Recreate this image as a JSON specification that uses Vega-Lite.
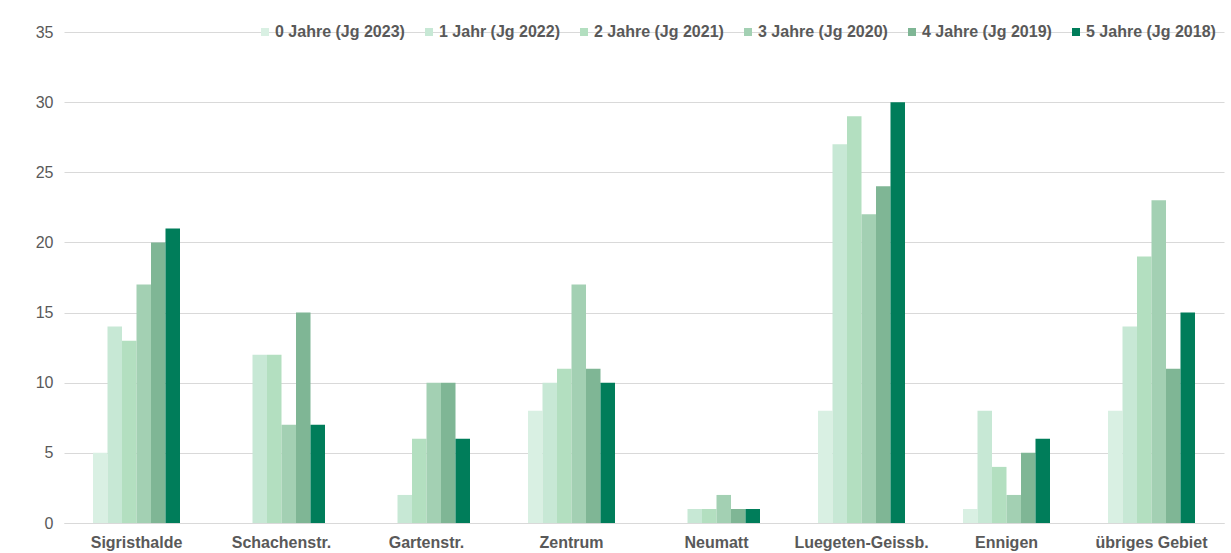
{
  "$schema": "https://vega.github.io/schema/vega-lite/v6.json",
  "width": 1160,
  "height": 491,
  "autosize": {"type": "none"},
  "padding": {"left": 64, "top": 32, "right": 7, "bottom": 30},
  "background": "white",
  "config": {
    "view": {"stroke": null},
    "font": "Liberation Sans"
  },
  "data": {
    "values": [
      {"Gebiet": "Sigristhalde", "Alter": "0 Jahre (Jg 2023)", "Anzahl": 5},
      {"Gebiet": "Sigristhalde", "Alter": "1 Jahr (Jg 2022)", "Anzahl": 14},
      {"Gebiet": "Sigristhalde", "Alter": "2 Jahre (Jg 2021)", "Anzahl": 13},
      {"Gebiet": "Sigristhalde", "Alter": "3 Jahre (Jg 2020)", "Anzahl": 17},
      {"Gebiet": "Sigristhalde", "Alter": "4 Jahre (Jg 2019)", "Anzahl": 20},
      {"Gebiet": "Sigristhalde", "Alter": "5 Jahre (Jg 2018)", "Anzahl": 21},
      {"Gebiet": "Schachenstr.", "Alter": "0 Jahre (Jg 2023)", "Anzahl": 0},
      {"Gebiet": "Schachenstr.", "Alter": "1 Jahr (Jg 2022)", "Anzahl": 12},
      {"Gebiet": "Schachenstr.", "Alter": "2 Jahre (Jg 2021)", "Anzahl": 12},
      {"Gebiet": "Schachenstr.", "Alter": "3 Jahre (Jg 2020)", "Anzahl": 7},
      {"Gebiet": "Schachenstr.", "Alter": "4 Jahre (Jg 2019)", "Anzahl": 15},
      {"Gebiet": "Schachenstr.", "Alter": "5 Jahre (Jg 2018)", "Anzahl": 7},
      {"Gebiet": "Gartenstr.", "Alter": "0 Jahre (Jg 2023)", "Anzahl": 0},
      {"Gebiet": "Gartenstr.", "Alter": "1 Jahr (Jg 2022)", "Anzahl": 2},
      {"Gebiet": "Gartenstr.", "Alter": "2 Jahre (Jg 2021)", "Anzahl": 6},
      {"Gebiet": "Gartenstr.", "Alter": "3 Jahre (Jg 2020)", "Anzahl": 10},
      {"Gebiet": "Gartenstr.", "Alter": "4 Jahre (Jg 2019)", "Anzahl": 10},
      {"Gebiet": "Gartenstr.", "Alter": "5 Jahre (Jg 2018)", "Anzahl": 6},
      {"Gebiet": "Zentrum", "Alter": "0 Jahre (Jg 2023)", "Anzahl": 8},
      {"Gebiet": "Zentrum", "Alter": "1 Jahr (Jg 2022)", "Anzahl": 10},
      {"Gebiet": "Zentrum", "Alter": "2 Jahre (Jg 2021)", "Anzahl": 11},
      {"Gebiet": "Zentrum", "Alter": "3 Jahre (Jg 2020)", "Anzahl": 17},
      {"Gebiet": "Zentrum", "Alter": "4 Jahre (Jg 2019)", "Anzahl": 11},
      {"Gebiet": "Zentrum", "Alter": "5 Jahre (Jg 2018)", "Anzahl": 10},
      {"Gebiet": "Neumatt", "Alter": "0 Jahre (Jg 2023)", "Anzahl": 0},
      {"Gebiet": "Neumatt", "Alter": "1 Jahr (Jg 2022)", "Anzahl": 1},
      {"Gebiet": "Neumatt", "Alter": "2 Jahre (Jg 2021)", "Anzahl": 1},
      {"Gebiet": "Neumatt", "Alter": "3 Jahre (Jg 2020)", "Anzahl": 2},
      {"Gebiet": "Neumatt", "Alter": "4 Jahre (Jg 2019)", "Anzahl": 1},
      {"Gebiet": "Neumatt", "Alter": "5 Jahre (Jg 2018)", "Anzahl": 1},
      {"Gebiet": "Luegeten-Geissb.", "Alter": "0 Jahre (Jg 2023)", "Anzahl": 8},
      {"Gebiet": "Luegeten-Geissb.", "Alter": "1 Jahr (Jg 2022)", "Anzahl": 27},
      {"Gebiet": "Luegeten-Geissb.", "Alter": "2 Jahre (Jg 2021)", "Anzahl": 29},
      {"Gebiet": "Luegeten-Geissb.", "Alter": "3 Jahre (Jg 2020)", "Anzahl": 22},
      {"Gebiet": "Luegeten-Geissb.", "Alter": "4 Jahre (Jg 2019)", "Anzahl": 24},
      {"Gebiet": "Luegeten-Geissb.", "Alter": "5 Jahre (Jg 2018)", "Anzahl": 30},
      {"Gebiet": "Ennigen", "Alter": "0 Jahre (Jg 2023)", "Anzahl": 1},
      {"Gebiet": "Ennigen", "Alter": "1 Jahr (Jg 2022)", "Anzahl": 8},
      {"Gebiet": "Ennigen", "Alter": "2 Jahre (Jg 2021)", "Anzahl": 4},
      {"Gebiet": "Ennigen", "Alter": "3 Jahre (Jg 2020)", "Anzahl": 2},
      {"Gebiet": "Ennigen", "Alter": "4 Jahre (Jg 2019)", "Anzahl": 5},
      {"Gebiet": "Ennigen", "Alter": "5 Jahre (Jg 2018)", "Anzahl": 6},
      {"Gebiet": "übriges Gebiet", "Alter": "0 Jahre (Jg 2023)", "Anzahl": 8},
      {"Gebiet": "übriges Gebiet", "Alter": "1 Jahr (Jg 2022)", "Anzahl": 14},
      {"Gebiet": "übriges Gebiet", "Alter": "2 Jahre (Jg 2021)", "Anzahl": 19},
      {"Gebiet": "übriges Gebiet", "Alter": "3 Jahre (Jg 2020)", "Anzahl": 23},
      {"Gebiet": "übriges Gebiet", "Alter": "4 Jahre (Jg 2019)", "Anzahl": 11},
      {"Gebiet": "übriges Gebiet", "Alter": "5 Jahre (Jg 2018)", "Anzahl": 15}
    ]
  },
  "mark": {"type": "bar"},
  "encoding": {
    "x": {
      "field": "Gebiet",
      "type": "nominal",
      "sort": ["Sigristhalde", "Schachenstr.", "Gartenstr.", "Zentrum", "Neumatt", "Luegeten-Geissb.", "Ennigen", "übriges Gebiet"],
      "scale": {"paddingInner": 0.4, "paddingOuter": 0.2},
      "axis": {
        "title": null,
        "labelAngle": 0,
        "labelFont": "Liberation Sans",
        "labelFontSize": 16,
        "labelFontWeight": "bold",
        "labelColor": "#595959",
        "labelPadding": 11,
        "ticks": false,
        "domainColor": "#d9d9d9",
        "domainWidth": 1
      }
    },
    "xOffset": {
      "field": "Alter",
      "type": "nominal",
      "sort": ["0 Jahre (Jg 2023)", "1 Jahr (Jg 2022)", "2 Jahre (Jg 2021)", "3 Jahre (Jg 2020)", "4 Jahre (Jg 2019)", "5 Jahre (Jg 2018)"],
      "scale": {"paddingInner": 0, "paddingOuter": 0}
    },
    "y": {
      "field": "Anzahl",
      "type": "quantitative",
      "scale": {"domain": [0, 35], "nice": false},
      "axis": {
        "title": null,
        "values": [0, 5, 10, 15, 20, 25, 30, 35],
        "domain": false,
        "ticks": false,
        "labelFont": "Liberation Sans",
        "labelFontSize": 16,
        "labelColor": "#595959",
        "labelPadding": 11,
        "gridColor": "#d9d9d9",
        "gridWidth": 1
      }
    },
    "color": {
      "field": "Alter",
      "type": "nominal",
      "sort": ["0 Jahre (Jg 2023)", "1 Jahr (Jg 2022)", "2 Jahre (Jg 2021)", "3 Jahre (Jg 2020)", "4 Jahre (Jg 2019)", "5 Jahre (Jg 2018)"],
      "scale": {"range": ["#d9f0e3", "#c7e8d5", "#b3dfc0", "#a3d0b3", "#7fb695", "#007d5a"]},
      "legend": {
        "title": null,
        "orient": "none",
        "direction": "horizontal",
        "gridAlign": "none",
        "legendX": 193,
        "legendY": -8,
        "symbolType": "square",
        "symbolSize": 64,
        "symbolStrokeWidth": 0,
        "symbolOffset": 0,
        "labelOffset": 2,
        "labelFont": "Liberation Sans",
        "labelFontSize": 16,
        "labelFontWeight": "bold",
        "labelColor": "#595959",
        "labelLimit": 300,
        "columnPadding": 16,
        "padding": 0
      }
    }
  }
}
